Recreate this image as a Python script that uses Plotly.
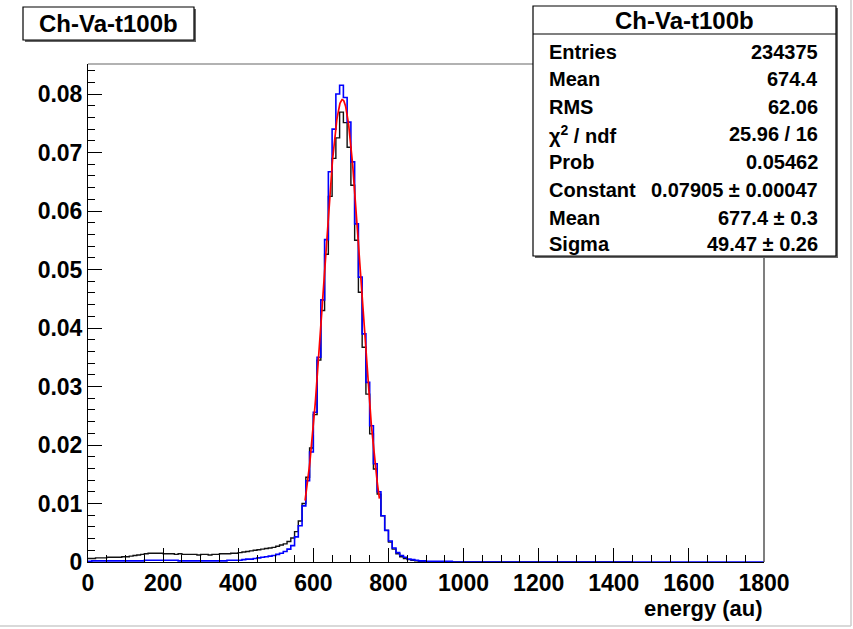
import numpy as np
import plotly.graph_objects as go

W, H = 853, 629

# ---------------- data ----------------
bin_width = 10
# blue histogram, bins of 10 from 0 to 1800
blue_vals = [
    0.0001, 0.0002, 0.0002, 0.0002, 0.0002, 0.0002, 0.0002, 0.0002, 0.0002, 0.0002,
    0.0002, 0.0002, 0.0002, 0.0002, 0.0002, 0.0003, 0.0003, 0.0003, 0.0003, 0.0003,
    0.0003, 0.0003, 0.0003, 0.0003, 0.0002, 0.0002, 0.0002, 0.0002, 0.0002, 0.0002,
    0.0002, 0.0002, 0.0002, 0.0002, 0.0002, 0.0002, 0.0002, 0.0003, 0.0003, 0.0003,
    0.0003, 0.0004, 0.0005, 0.0005, 0.0006, 0.0007, 0.0008, 0.0009, 0.0010, 0.0011,
    0.0013, 0.0015, 0.0018, 0.0022, 0.0028, 0.0043, 0.0062, 0.0096, 0.0139, 0.0188,
    0.0256, 0.0350, 0.0448, 0.0551, 0.0667, 0.0740, 0.0800, 0.0815, 0.0794, 0.0752,
    0.0684, 0.0578, 0.0487, 0.0390, 0.0307, 0.0233, 0.0168, 0.0120, 0.0079, 0.0054,
    0.0036, 0.0024, 0.0016, 0.0011, 0.0008, 0.0005, 0.0004, 0.0003, 0.0002, 0.0002,
    0.0001, 0.0001, 0.0001, 0.0001, 0.0001, 0.0001, 0.0001, 0.0, 0.0, 0.0,
] + [0.0] * 80

# black histogram, bins of 10 from 0 to 1450
black_vals = [
    0.0006, 0.0006, 0.0007, 0.0007, 0.0007, 0.0008, 0.0008, 0.0008, 0.0008, 0.0009,
    0.0009, 0.0010, 0.0011, 0.0012, 0.0013, 0.0014, 0.0015, 0.0015, 0.0015, 0.0015,
    0.0014, 0.0014, 0.0014, 0.0013, 0.0014, 0.0013, 0.0013, 0.0013, 0.0013, 0.0012,
    0.0013, 0.0013, 0.0012, 0.0013, 0.0013, 0.0014, 0.0014, 0.0014, 0.0015, 0.0015,
    0.0016, 0.0017, 0.0018, 0.0019, 0.0020, 0.0021, 0.0022, 0.0023, 0.0024, 0.0025,
    0.0027, 0.0029, 0.0031, 0.0035, 0.0041, 0.0052, 0.0070, 0.0100, 0.0145, 0.0195,
    0.0252, 0.0345, 0.0430, 0.0526, 0.0625, 0.0690, 0.0725, 0.0769, 0.0751, 0.0709,
    0.0644, 0.0550, 0.0461, 0.0367, 0.0287, 0.0219, 0.0159, 0.0116, 0.0079, 0.0054,
    0.0034, 0.0022, 0.0014, 0.0009, 0.0006, 0.0004, 0.0003, 0.0002, 0.0001, 0.0001,
] + [0.0] * 55

# Gaussian fit parameters (from the stats box)
fit_const, fit_mean, fit_sigma = 0.07905, 677.4, 49.47
fit_range = (578, 776)

title_text = "Ch-Va-t100b"
stats_labels = ["Entries", "Mean", "RMS", "χ<sup>2</sup> / ndf", "Prob", "Constant", "Mean", "Sigma"]
stats_values = ["234375", "674.4", "62.06", "25.96 / 16", "0.05462",
                "0.07905 ± 0.00047", "677.4 ± 0.3", "49.47 ± 0.26"]

x_ticks = [0, 200, 400, 600, 800, 1000, 1200, 1400, 1600, 1800]
y_ticks = [0, 0.01, 0.02, 0.03, 0.04, 0.05, 0.06, 0.07, 0.08]
y_tick_labels = ["0", "0.01", "0.02", "0.03", "0.04", "0.05", "0.06", "0.07", "0.08"]
x_title = "energy (au)"


def step_xy(vals):
    edges = [i * bin_width for i in range(len(vals) + 1)]
    xs = edges
    ys = list(vals) + [vals[-1]]
    return xs, ys


def px(x):
    return x / W


def py(y):
    return 1 - y / H


FONT = "Liberation Sans, Arial, Helvetica, sans-serif"

fig = go.Figure()
bx, by = step_xy(black_vals)
fig.add_trace(go.Scatter(x=bx, y=by, mode="lines", line=dict(color="#111111", width=1.4, shape="hv"),
                         hoverinfo="skip", showlegend=False))
ux, uy = step_xy(blue_vals)
fig.add_trace(go.Scatter(x=ux, y=uy, mode="lines", line=dict(color="#0000ff", width=1.6, shape="hv"),
                         hoverinfo="skip", showlegend=False))
fx = np.linspace(fit_range[0], fit_range[1], 200)
fy = fit_const * np.exp(-0.5 * ((fx - fit_mean) / fit_sigma) ** 2)
fig.add_trace(go.Scatter(x=fx, y=fy, mode="lines", line=dict(color="#ff0000", width=1.7),
                         hoverinfo="skip", showlegend=False))

# plot area in pixels
L, R, T, B = 88, 764, 64, 562
ymax = (B - T) / 5850.0

fig.update_layout(
    width=W, height=H,
    margin=dict(l=0, r=0, t=0, b=0, pad=0, autoexpand=False),
    paper_bgcolor="white", plot_bgcolor="white",
    showlegend=False,
    xaxis=dict(
        domain=[px(L), px(R)], range=[0, 1800], automargin=False,
        tickmode="array", tickvals=x_ticks, ticktext=[str(v) for v in x_ticks],
        ticks="inside", ticklen=14, tickwidth=1, tickcolor="black",
        minor=dict(ticks="inside", dtick=50, tick0=0, ticklen=7, tickcolor="black", showgrid=False),
        showline=True, linecolor="black", linewidth=1,
        showgrid=False, zeroline=False,
        tickfont=dict(family=FONT, size=23, color="black", weight="bold"),
        fixedrange=True,
    ),
    yaxis=dict(
        domain=[py(B), py(T)], range=[0, ymax], automargin=False,
        tickmode="array", tickvals=y_ticks, ticktext=y_tick_labels,
        ticks="inside", ticklen=14, tickwidth=1, tickcolor="black",
        minor=dict(ticks="inside", dtick=0.002, tick0=0, ticklen=7, tickcolor="black", showgrid=False),
        showline=True, linecolor="black", linewidth=1,
        showgrid=False, zeroline=False,
        tickfont=dict(family=FONT, size=23, color="black", weight="bold"),
        fixedrange=True,
    ),
)

shapes = []
# frame top & right
shapes.append(dict(type="line", xref="paper", yref="paper", x0=px(L), x1=px(R), y0=py(T), y1=py(T),
                   line=dict(color="#999999", width=1.5)))
shapes.append(dict(type="line", xref="paper", yref="paper", x0=px(R), x1=px(R), y0=py(T), y1=py(B),
                   line=dict(color="#555555", width=1.5)))
# canvas border (right and bottom)
shapes.append(dict(type="line", xref="paper", yref="paper", x0=px(851), x1=px(851), y0=py(0), y1=py(626),
                   line=dict(color="#cccccc", width=1.5)))
shapes.append(dict(type="line", xref="paper", yref="paper", x0=px(0), x1=px(851), y0=py(626), y1=py(626),
                   line=dict(color="#cccccc", width=1.5)))


def box(x0, y0, x1, y1, shadow=2):
    out = []
    out.append(dict(type="rect", xref="paper", yref="paper",
                    x0=px(x0 + shadow), x1=px(x1 + shadow), y0=py(y1 + shadow), y1=py(y0 + shadow),
                    fillcolor="#666666", line=dict(width=0), layer="above"))
    out.append(dict(type="rect", xref="paper", yref="paper",
                    x0=px(x0), x1=px(x1), y0=py(y1), y1=py(y0),
                    fillcolor="white", line=dict(color="black", width=1.2), layer="above"))
    return out


shapes += box(23, 7, 194, 40, shadow=2)
shapes += box(533, 6, 836, 256, shadow=2)
shapes.append(dict(type="line", xref="paper", yref="paper", x0=px(533), x1=px(836), y0=py(34), y1=py(34),
                   line=dict(color="black", width=1.2), layer="above"))
fig.update_layout(shapes=shapes)

ann = []
ann.append(dict(x=px(108.5), y=py(24), xref="paper", yref="paper", text="<b>%s</b>" % title_text,
                showarrow=False, xanchor="center", yanchor="middle",
                font=dict(family=FONT, size=24, color="black")))
ann.append(dict(x=px(684), y=py(21), xref="paper", yref="paper", text="<b>%s</b>" % title_text,
                showarrow=False, xanchor="center", yanchor="middle",
                font=dict(family=FONT, size=24, color="black")))
row_y = [52, 79, 107, 134, 162, 190, 218, 244]
for lab, val, yy in zip(stats_labels, stats_values, row_y):
    ann.append(dict(x=px(547), y=py(yy), xref="paper", yref="paper", text="<b>%s</b>" % lab,
                    showarrow=False, xanchor="left", yanchor="middle",
                    font=dict(family=FONT, size=20, color="black")))
    ann.append(dict(x=px(820), y=py(yy), xref="paper", yref="paper", text="<b>%s</b>" % val,
                    showarrow=False, xanchor="right", yanchor="middle",
                    font=dict(family=FONT, size=20, color="black")))
ann.append(dict(x=px(765), y=py(608), xref="paper", yref="paper", text="<b>%s</b>" % x_title,
                showarrow=False, xanchor="right", yanchor="middle",
                font=dict(family=FONT, size=22, color="black")))
fig.update_layout(annotations=ann)

fig.write_html("out.html")
